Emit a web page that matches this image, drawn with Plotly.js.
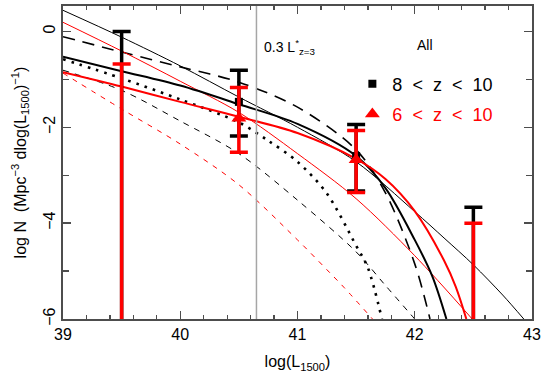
<!DOCTYPE html>
<html>
<head>
<meta charset="utf-8">
<script src="https://cdn.plot.ly/plotly-3.0.1.min.js"></script>
<style>html,body{margin:0;padding:0;background:#fff;}#chart{width:549px;height:388px;}</style>
</head>
<body>
<div id="chart"></div>
<script>
// ---- model curves ----
const thinBlackX = [39, 39.5, 40, 40.5, 41, 41.5, 42, 42.25, 42.5, 42.75, 42.93];
const thinBlackY = [0.44, -0.12, -0.72, -1.37, -2.0, -2.72, -3.76, -4.31, -4.87, -5.5, -6];

const thinRedX = [39, 39.5, 40, 40.5, 41, 41.5, 42, 42.49];
const thinRedY = [0.19, -0.41, -1.04, -1.69, -2.55, -3.49, -4.68, -6];

const thickBlackX = [39, 39.5, 40, 40.5, 41, 41.5, 41.75, 42, 42.15, 42.27];
const thickBlackY = [-0.53, -0.83, -1.13, -1.52, -1.93, -2.6, -3.27, -4.35, -5.11, -6];

const longDashX = [39, 39.5, 40, 40.5, 41, 41.5, 41.75, 42, 42.13];
const longDashY = [-0.11, -0.43, -0.74, -1.06, -1.58, -2.47, -3.37, -4.85, -6];

const thickRedX = [39, 39.5, 40, 40.5, 41, 41.5, 41.75, 42, 42.25, 42.35, 42.44];
const thickRedY = [-0.85, -1.15, -1.47, -1.78, -2.12, -2.66, -3.08, -3.75, -4.78, -5.33, -6];

const dottedX = [39, 39.5, 40, 40.5, 40.75, 41, 41.25, 41.5, 41.6, 41.72];
const dottedY = [-0.58, -0.98, -1.42, -1.90, -2.28, -2.72, -3.38, -4.47, -4.93, -6];

const thinDashX = [39, 39.5, 40, 40.5, 41, 41.5, 41.75, 42];
const thinDashY = [-0.81, -1.23, -1.87, -2.55, -3.52, -4.6, -5.3, -6];

const redDashX = [39, 39.5, 40, 40.5, 41, 41.25, 41.4, 41.64];
const redDashY = [-0.87, -1.62, -2.35, -3.2, -4.35, -4.97, -5.35, -6];

// ---- binned measurements ----
const binX = [39.5, 40.5, 41.5, 42.5];
// 8 < z < 10 (black squares); -7 marks values below the plotted range
const blackVal = [-7, -1.47, -2.6, -7];
const blackHi  = [0.0, -0.81, -1.94, -3.67];
const blackLo  = [-7, -2.18, -3.33, -7];
// 6 < z < 10 (red triangles)
const redVal = [-7, -1.81, -2.68, -7];
const redHi  = [-0.68, -1.17, -2.07, -4.0];
const redLo  = [-7, -2.52, -3.36, -7];

const lStar03 = 40.65;   // log(0.3 L*_{z=3})

const sp = '\u00a0\u00a0';
const blackName = '8' + sp + '&lt;' + sp + 'z' + sp + '&lt;' + sp + '10';
const redName = '<span style="color:#ff0000">6' + sp + '&lt;' + sp + 'z' + sp + '&lt;' + sp + '10</span>';

function curve(x, y, color, width, dash) {
  return {x: x, y: y, type: 'scatter', mode: 'lines', showlegend: false, hoverinfo: 'skip',
          line: {color: color, width: width, dash: dash || 'solid', shape: 'spline', smoothing: 0.9}};
}
function diff(a, b) { return a.map((v, i) => v - b[i]); }

const traces = [
  curve(redDashX, redDashY, '#ff0000', 1, '5px,6px'),
  curve(thinDashX, thinDashY, '#000000', 1, '6px,6px'),
  curve(dottedX, dottedY, '#000000', 2.6, '2.6px,6px'),
  curve(longDashX, longDashY, '#000000', 1.6, '12px,8px'),
  curve(thinBlackX, thinBlackY, '#000000', 1),
  curve(thinRedX, thinRedY, '#ff0000', 1),
  curve(thickBlackX, thickBlackY, '#000000', 2),
  curve(thickRedX, thickRedY, '#ff0000', 2),
  {x: [lStar03, lStar03], y: [-6, 0.53], type: 'scatter', mode: 'lines', showlegend: false,
   hoverinfo: 'skip', line: {color: '#a6a6a6', width: 1.5}},
  {x: binX, y: blackVal, type: 'scatter', mode: 'markers', name: blackName, legendgroup: 'a',
   marker: {symbol: 'square', size: 8, color: '#000000'},
   error_y: {type: 'data', symmetric: false, array: diff(blackHi, blackVal), arrayminus: diff(blackVal, blackLo),
             color: '#000000', thickness: 3.5, width: 9}},
  {x: binX, y: redVal, type: 'scatter', mode: 'markers', name: redName, legendgroup: 'b',
   marker: {symbol: 'triangle-up', size: 13, color: '#ff0000'},
   error_y: {type: 'data', symmetric: false, array: diff(redHi, redVal), arrayminus: diff(redVal, redLo),
             color: '#ff0000', thickness: 3.5, width: 9}}
];

const axisCommon = {
  showgrid: false, zeroline: false, showline: true, linecolor: '#4d4d4d', linewidth: 2,
  mirror: 'allticks', ticks: 'inside', ticklen: 8, tickwidth: 1.3, tickcolor: '#4d4d4d',
  tickfont: {family: 'Liberation Sans, Arial, sans-serif', size: 16, color: '#000'}
};

const layout = {
  width: 549, height: 388,
  margin: {l: 63, r: 17, t: 6, b: 69},
  paper_bgcolor: '#ffffff', plot_bgcolor: '#ffffff',
  font: {family: 'Liberation Sans, Arial, sans-serif', color: '#000'},
  xaxis: Object.assign({}, axisCommon, {
    range: [39, 43], dtick: 1, tick0: 39,
    minor: {dtick: 0.2, ticks: 'inside', ticklen: 4, tickwidth: 1.3, tickcolor: '#4d4d4d'},
    title: {text: 'log(L<sub>1500</sub>)', font: {size: 16}, standoff: 14}
  }),
  yaxis: Object.assign({}, axisCommon, {
    range: [-6, 0.53], dtick: 2, tick0: 0, tickangle: -90,
    minor: {dtick: 1, ticks: 'inside', ticklen: 6, tickwidth: 1.3, tickcolor: '#4d4d4d'},
    title: {text: 'log N  (Mpc<sup>\u22123</sup> dlog(L<sub>1500</sub>)<sup>\u22121</sup>)', font: {size: 16}, standoff: 10}
  }),
  showlegend: true,
  legend: {x: 0.617, y: 0.810, xanchor: 'left', yanchor: 'top', bgcolor: 'rgba(0,0,0,0)',
           font: {size: 18, color: '#000'}, traceorder: 'grouped', tracegroupgap: 4},
  annotations: [
    {x: 40.70, y: -0.33, xref: 'x', yref: 'y', xanchor: 'left', yanchor: 'middle', showarrow: false,
     text: '0.3 L<sup>*</sup><sub>z=3</sub>', font: {size: 14, color: '#000'}},
    {x: 42.0, y: -0.28, xref: 'x', yref: 'y', xanchor: 'left', yanchor: 'middle', showarrow: false,
     text: 'All', font: {size: 14, color: '#000'}}
  ]
};

Plotly.newPlot('chart', traces, layout, {displayModeBar: false, staticPlot: true});
</script>
</body>
</html>
